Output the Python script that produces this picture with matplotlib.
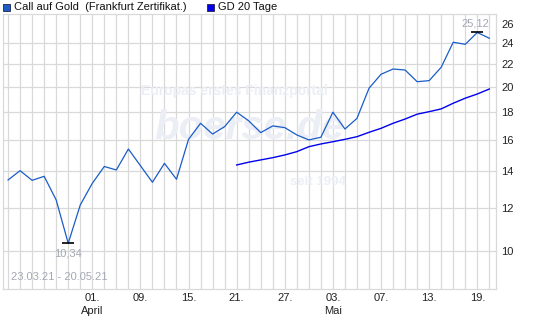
"""Call auf Gold (Frankfurt Zertifikat) with 20-day moving average, boerse.de style."""

import matplotlib

matplotlib.use("Agg")
import matplotlib.pyplot as plt
import numpy as np
import pandas as pd
from matplotlib.ticker import FixedLocator, NullLocator, FixedFormatter

plt.rcParams["font.family"] = ["Liberation Sans", "DejaVu Sans"]

# trading days 23.03.21 - 20.05.21 (Frankfurt closed Good Friday / Easter Monday)
dates = pd.bdate_range("2021-03-23", "2021-05-20").drop(
    pd.to_datetime(["2021-04-02", "2021-04-05"]))

price = [13.50, 14.04, 13.48, 13.71, 12.41, 10.34, 12.15, 13.31, 14.29, 14.08,
         15.38, 14.34, 13.37, 14.48, 13.54, 16.02, 17.14, 16.38, 16.90, 17.96,
         17.32, 16.48, 16.95, 16.83, 16.32, 15.98, 16.16, 17.96, 16.73, 17.50,
         19.86, 21.07, 21.54, 21.45, 20.42, 20.51, 21.70, 24.11, 23.90, 25.12,
         24.52]
gd20 = [np.nan] * 19 + [14.38, 14.55, 14.69, 14.83, 15.00, 15.21, 15.53, 15.71,
                        15.86, 16.02, 16.20, 16.50, 16.78, 17.14, 17.45, 17.81,
                        18.00, 18.21, 18.65, 19.05, 19.39, 19.80]

y_ticks = [10, 12, 14, 16, 18, 20, 22, 24, 26]
y_grid = [10, 12, 14, 16, 18, 20, 22, 24]
tick_days = ["2021-04-01", "2021-04-09", "2021-04-15", "2021-04-21", "2021-04-27",
             "2021-05-03", "2021-05-07", "2021-05-13", "2021-05-19"]
month_names = {4: "April", 5: "Mai"}

MAIN = "#1a5cc8"
GD = "#0000ee"
GRID = "#d9d9d9"
NOTE = "#a4a8b4"
WM = "#eceef6"

W, H = 537, 323
fig = plt.figure(figsize=(W / 100, H / 100), dpi=100)
ax = fig.add_axes([3 / W, 1 - 289.3 / H, (495.7 - 3) / W, (289.3 - 14.3) / H])

x = np.arange(len(dates))
ax.set_yscale("log")
ax.set_xlim(-0.42, 40.53)
ax.set_ylim(8.52, 27.12)

# grid: one vertical line per trading day
for xi in x:
    ax.axvline(xi, color=GRID, lw=0.9, zorder=0)
for yv in y_grid:
    ax.axhline(yv, color=GRID, lw=0.9, zorder=0)
for s in ax.spines.values():
    s.set_color(GRID)
    s.set_linewidth(0.9)

# watermark
ax.text(0.47, 0.72, "Europas erstes Finanzportal", transform=ax.transAxes,
        ha="center", va="center", fontsize=10, fontweight="bold", color=WM, zorder=1)
ax.text(0.5, 0.585, "boerse.de", transform=ax.transAxes, ha="center", va="center",
        fontsize=29, fontweight="bold", style="italic", color=WM, zorder=1)
ax.text(0.64, 0.39, "seit 1994", transform=ax.transAxes, ha="center", va="center",
        fontsize=9.5, fontweight="bold", color=WM, zorder=1)

ax.plot(x, price, color=MAIN, lw=0.9, zorder=3)
ax.plot(x, gd20, color=GD, lw=1.0, zorder=3)

# min / max markers
imin = int(np.argmin(price))
imax = int(np.argmax(price))
ax.plot([imin, imax], [price[imin], price[imax]], marker="_", ms=8, mew=1.2,
        color="black", ls="none", zorder=4)
ax.annotate(f"{price[imin]:.2f}".replace(".", ","), (imin, price[imin]),
            xytext=(0, -4), textcoords="offset points", ha="center", va="top",
            fontsize=8, color=NOTE)
ax.annotate(f"{price[imax]:.2f}".replace(".", ","), (imax, price[imax]),
            xytext=(-1.5, 3), textcoords="offset points", ha="center", va="bottom",
            fontsize=8, color=NOTE)
ax.text(8 / (495.7 - 3), 0.025, "23.03.21 - 20.05.21", transform=ax.transAxes,
        ha="left", va="bottom", fontsize=8, color=NOTE)

# axes
ax.yaxis.tick_right()
ax.yaxis.set_major_locator(FixedLocator(y_ticks))
ax.yaxis.set_major_formatter(FixedFormatter([str(v) for v in y_ticks]))
ax.yaxis.set_minor_locator(NullLocator())
ax.tick_params(axis="y", length=0, pad=4, labelsize=8, labelcolor="#222222")

tick_pos, tick_lab = [], []
for d in tick_days:
    i = dates.get_loc(pd.Timestamp(d))
    lab = f"{dates[i].day:02d}."
    if dates[i].day <= 3 and (i == 0 or dates[i - 1].month != dates[i].month):
        lab += "\n" + month_names[dates[i].month]
    tick_pos.append(i)
    tick_lab.append(lab)
ax.set_xticks(tick_pos)
ax.set_xticklabels(tick_lab, linespacing=1.35)
ax.tick_params(axis="x", length=0, pad=3, labelsize=8, labelcolor="#222222")

# legend row
fig.patches.append(plt.Rectangle((3 / W, 1 - 11 / H), 7 / W, 7 / H, transform=fig.transFigure,
                                 facecolor=MAIN, edgecolor="#222244", lw=0.6))
fig.text(14 / W, 1 - 7.5 / H, "Call auf Gold  (Frankfurt Zertifikat.)", fontsize=8,
         va="center", ha="left", color="#111111")
fig.patches.append(plt.Rectangle((207 / W, 1 - 11 / H), 7 / W, 7 / H, transform=fig.transFigure,
                                 facecolor=GD, edgecolor="#222244", lw=0.6))
fig.text(218 / W, 1 - 7.5 / H, "GD 20 Tage", fontsize=8, va="center", ha="left",
         color="#111111")

fig.savefig("out.png", dpi=100)
